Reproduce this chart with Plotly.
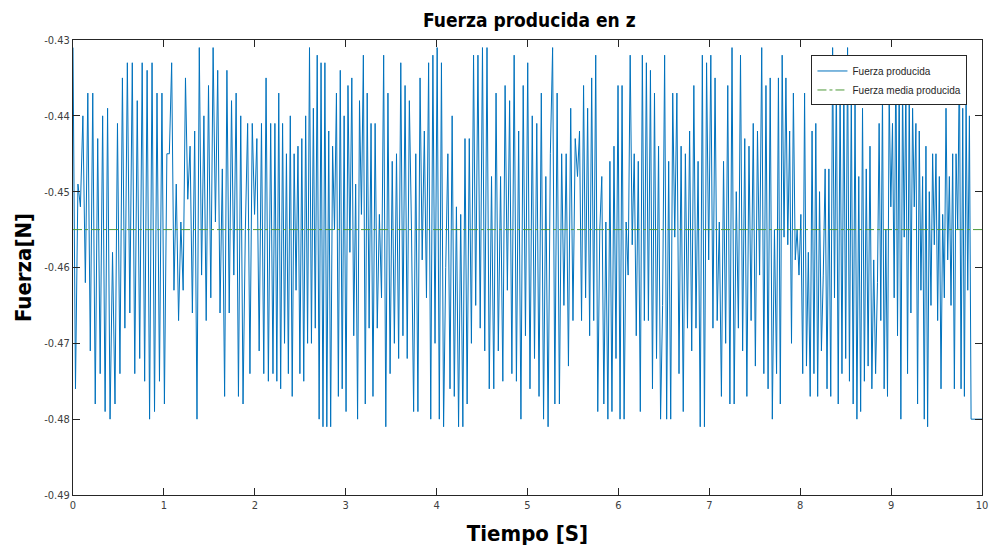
import numpy as np
import plotly.graph_objects as go

# Segment time bounds (s) and force values (N)
seg_bounds = [0.0, 1.06, 2.20, 3.30, 4.43, 5.55, 6.62, 7.74, 8.85, 9.88]

seg0 = [-0.431, -0.476, -0.449, -0.452, -0.440, -0.462, -0.437, -0.471, -0.437, -0.478,
        -0.443, -0.474, -0.440, -0.479, -0.439, -0.480, -0.458, -0.478, -0.441, -0.474,
        -0.435, -0.468, -0.433, -0.466, -0.433, -0.474, -0.438, -0.472, -0.433, -0.475,
        -0.434, -0.480, -0.433, -0.479, -0.437, -0.475, -0.437, -0.478, -0.445]
seg1 = [-0.445, -0.433, -0.463, -0.449, -0.467, -0.454, -0.463, -0.435, -0.451, -0.444,
        -0.466, -0.442, -0.480, -0.431, -0.461, -0.440, -0.467, -0.436, -0.464, -0.431,
        -0.454, -0.434, -0.466, -0.447, -0.477, -0.434, -0.466, -0.438, -0.461, -0.437,
        -0.477, -0.440, -0.478, -0.455, -0.441, -0.474, -0.441, -0.453, -0.443, -0.471,
        -0.441, -0.474, -0.435, -0.475, -0.441]
seg2 = [-0.474, -0.441, -0.475, -0.437, -0.476, -0.441, -0.470, -0.445, -0.474, -0.440,
        -0.477, -0.445, -0.463, -0.444, -0.474, -0.443, -0.475, -0.440, -0.470, -0.431,
        -0.470, -0.439, -0.468, -0.432, -0.480, -0.433, -0.481, -0.433, -0.481, -0.442,
        -0.481, -0.444, -0.455, -0.437, -0.477, -0.434, -0.476, -0.440, -0.479, -0.436,
        -0.458, -0.435, -0.469, -0.449, -0.480, -0.438, -0.453, -0.432, -0.478, -0.437,
        -0.468, -0.441]
seg3 = [-0.477, -0.441, -0.468, -0.453, -0.464, -0.432, -0.481, -0.437, -0.474, -0.446,
        -0.470, -0.445, -0.472, -0.433, -0.469, -0.436, -0.472, -0.438, -0.455, -0.479,
        -0.445, -0.479, -0.435, -0.459, -0.442, -0.464, -0.433, -0.480, -0.432, -0.470,
        -0.431, -0.480, -0.433, -0.481, -0.460, -0.445, -0.476, -0.440, -0.477, -0.452,
        -0.481, -0.453, -0.481, -0.443, -0.478, -0.443, -0.470, -0.432]
seg4 = [-0.465, -0.432, -0.468, -0.431, -0.471, -0.431, -0.476, -0.448, -0.476, -0.437,
        -0.471, -0.448, -0.475, -0.436, -0.463, -0.438, -0.474, -0.432, -0.475, -0.442,
        -0.480, -0.436, -0.469, -0.433, -0.476, -0.440, -0.472, -0.441, -0.477, -0.437,
        -0.480, -0.448, -0.481, -0.445, -0.431, -0.478, -0.437, -0.478, -0.445, -0.465,
        -0.445, -0.473, -0.439, -0.467, -0.443]
seg5 = [-0.448, -0.442, -0.467, -0.436, -0.464, -0.439, -0.469, -0.435, -0.467, -0.432,
        -0.479, -0.455, -0.448, -0.478, -0.454, -0.480, -0.446, -0.479, -0.444, -0.472,
        -0.436, -0.480, -0.436, -0.480, -0.454, -0.461, -0.432, -0.457, -0.445, -0.469,
        -0.446, -0.479, -0.432, -0.467, -0.433, -0.467, -0.434, -0.476, -0.437, -0.472,
        -0.444, -0.480, -0.465, -0.432, -0.480, -0.446, -0.480, -0.437]
seg6 = [-0.456, -0.437, -0.474, -0.444, -0.479, -0.445, -0.468, -0.442, -0.471, -0.436,
        -0.468, -0.446, -0.481, -0.432, -0.481, -0.433, -0.459, -0.432, -0.468, -0.435,
        -0.467, -0.454, -0.477, -0.446, -0.470, -0.436, -0.478, -0.431, -0.478, -0.450,
        -0.468, -0.432, -0.471, -0.443, -0.477, -0.444, -0.467, -0.441, -0.473, -0.442,
        -0.461, -0.431, -0.474, -0.436, -0.476, -0.435, -0.480, -0.455]
seg7 = [-0.474, -0.435, -0.478, -0.432, -0.456, -0.435, -0.457, -0.442, -0.470, -0.437,
        -0.459, -0.455, -0.461, -0.453, -0.474, -0.437, -0.473, -0.458, -0.477, -0.442,
        -0.474, -0.441, -0.477, -0.450, -0.471, -0.461, -0.447, -0.476, -0.447, -0.477,
        -0.431, -0.464, -0.435, -0.478, -0.436, -0.474, -0.435, -0.472, -0.431, -0.475,
        -0.437, -0.478, -0.438, -0.480, -0.448, -0.479, -0.439, -0.475, -0.447, -0.473,
        -0.444, -0.476, -0.459, -0.474]
seg8 = [-0.462, -0.441, -0.467, -0.437, -0.476, -0.455, -0.477, -0.437, -0.452, -0.441,
        -0.464, -0.432, -0.469, -0.434, -0.480, -0.436, -0.456, -0.436, -0.474, -0.437,
        -0.466, -0.439, -0.452, -0.441, -0.478, -0.442, -0.463, -0.448, -0.480, -0.444,
        -0.481, -0.450, -0.465, -0.445, -0.457, -0.445, -0.467, -0.448, -0.476, -0.453,
        -0.464, -0.439, -0.459, -0.448, -0.465, -0.445, -0.476, -0.445, -0.455, -0.432,
        -0.476, -0.439, -0.477, -0.438, -0.463, -0.440]
tail_times = [9.88, 10.0]
tail_values = [-0.480, -0.480]

mean_force = -0.455

x_ticks = [0, 1, 2, 3, 4, 5, 6, 7, 8, 9, 10]
y_ticks = [-0.49, -0.48, -0.47, -0.46, -0.45, -0.44, -0.43]
y_tick_text = ["-0.49", "-0.48", "-0.47", "-0.46", "-0.45", "-0.44", "-0.43"]

segments = [seg0, seg1, seg2, seg3, seg4, seg5, seg6, seg7, seg8]
t = []
f = []
for i, seg in enumerate(segments):
    ts = np.linspace(seg_bounds[i], seg_bounds[i + 1], len(seg), endpoint=False)
    t.extend(ts.tolist())
    f.extend(seg)
t.extend(tail_times)
f.extend(tail_values)

fig = go.Figure()
fig.add_trace(go.Scatter(
    x=t, y=f, mode="lines", name="Fuerza producida",
    line=dict(color="#0072BD", width=1)))
fig.add_trace(go.Scatter(
    x=[0, 10], y=[mean_force, mean_force], mode="lines", name="Fuerza media producida",
    line=dict(color="#4f9a3a", width=1, dash="dashdot")))

title_font = "Liberation Sans Narrow, DejaVu Sans Condensed, Arial Narrow, sans-serif"
axis_common = dict(showline=True, linecolor="#262626", linewidth=1, mirror="ticks",
                   ticks="inside", ticklen=7, tickcolor="#262626", showgrid=False,
                   zeroline=False,
                   tickfont=dict(family=title_font, size=11, color="#404040"))

fig.update_layout(
    width=995, height=554,
    margin=dict(l=73, r=7, t=40, b=59),
    paper_bgcolor="white", plot_bgcolor="white",
    title=dict(text="<b>Fuerza producida en z</b>", x=0.532, xanchor="center",
               y=0.975, yanchor="top",
               font=dict(family=title_font, size=19, color="black")),
    xaxis=dict(range=[0, 10], tickvals=x_ticks,
               title=dict(text="<b>Tiempo [S]</b>", standoff=14,
                          font=dict(family=title_font, size=22, color="black")),
               **axis_common),
    yaxis=dict(range=[-0.49, -0.43], tickvals=y_ticks, ticktext=y_tick_text,
               title=dict(text="<b>Fuerza[N]</b>", standoff=6,
                          font=dict(family=title_font, size=22, color="black")),
               **axis_common),
    legend=dict(x=0.984, xanchor="right", y=0.966, yanchor="top",
                bgcolor="white", bordercolor="#262626", borderwidth=1,
                font=dict(family="Liberation Sans, Arial, sans-serif", size=10, color="#262626"),
                tracegroupgap=0, itemwidth=30),
    showlegend=True,
)

fig.write_html("out.html")
